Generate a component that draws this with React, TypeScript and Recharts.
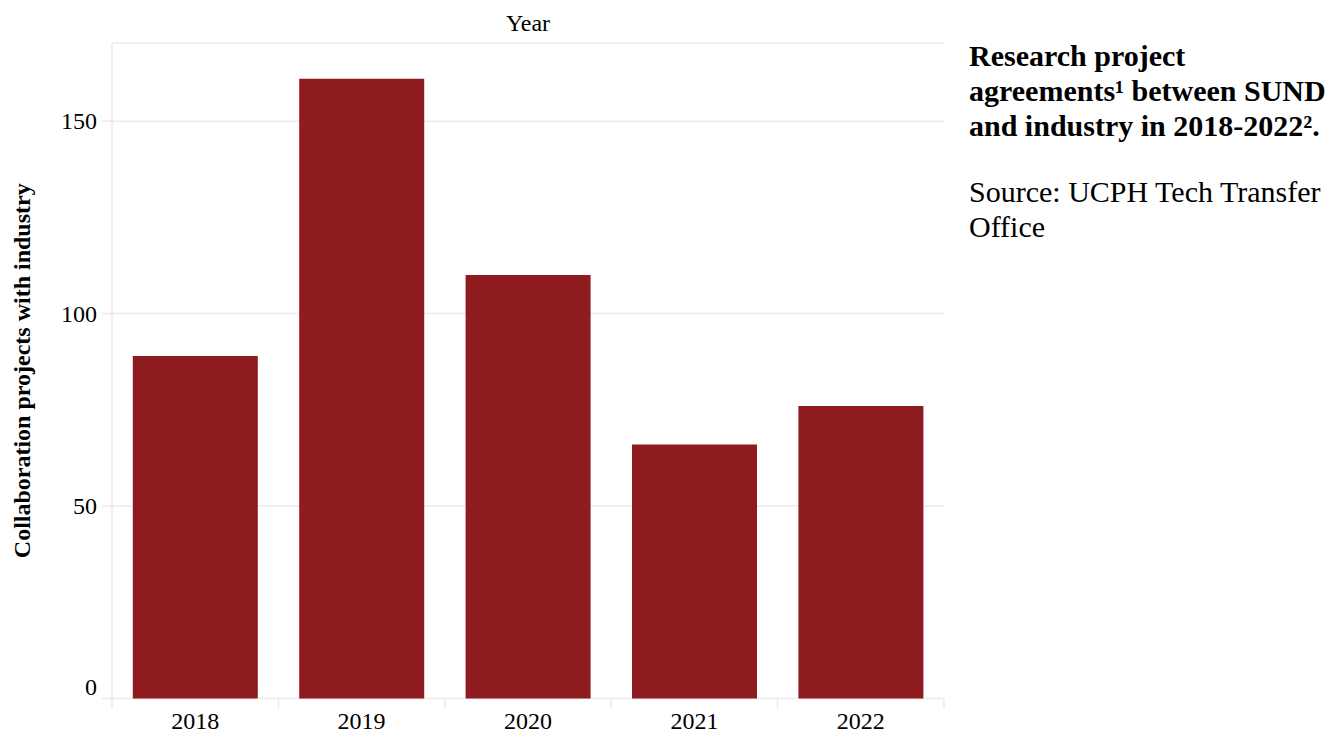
import React from "react";
import { BarChart, Bar, XAxis, YAxis, CartesianGrid } from "recharts";

const years = ["2018", "2019", "2020", "2021", "2022"];
const projects = [89, 161, 110, 66, 76];
const yTicks = [0, 50, 100, 150];

const titleLines = ["Research project", "agreements¹ between SUND", "and industry in 2018-2022²."];
const sourceLines = ["Source: UCPH Tech Transfer", "Office"];

const W = 1328;
const H = 732;
const LEFT = 112;
const RIGHT = 944;
const TOP = 43;
const BOTTOM = 698.5;
const BAND = (RIGHT - LEFT) / years.length;
const GRID = "#ebebeb";
const BAR = "#8E1B20";
const FONT = "'Liberation Serif', 'Times New Roman', serif";

const data = years.map((y, i) => ({ year: y, projects: projects[i] }));

const XTick = (props: any) => {
  const { x, payload, index } = props;
  return (
    <g>
      <line x1={x - BAND / 2} x2={x - BAND / 2} y1={BOTTOM} y2={BOTTOM + 10} stroke={GRID} strokeWidth={1.5} />
      {index === years.length - 1 && (
        <line x1={x + BAND / 2} x2={x + BAND / 2} y1={BOTTOM} y2={BOTTOM + 10} stroke={GRID} strokeWidth={1.5} />
      )}
      <text x={x} y={BOTTOM + 30} textAnchor="middle" fontFamily={FONT} fontSize={24} fill="#000">
        {payload.value}
      </text>
    </g>
  );
};

const YTick = (props: any) => {
  const { x, y, payload } = props;
  const shift = payload.value === 0 ? -12 : 0;
  return (
    <text x={x} y={y + shift} dy="0.34em" textAnchor="end" fontFamily={FONT} fontSize={24} fill="#000">
      {payload.value}
    </text>
  );
};

export default function App() {
  return (
    <div style={{ position: "absolute", left: 0, top: 0, width: W, height: H, background: "#fff" }}>
      <BarChart
        width={W}
        height={H}
        data={data}
        margin={{ top: TOP, right: W - RIGHT, left: 0, bottom: 0 }}
        barCategoryGap="12.5%"
      >
        <CartesianGrid vertical={false} stroke={GRID} strokeWidth={1.5} />
        <XAxis
          dataKey="year"
          height={H - BOTTOM}
          axisLine={false}
          tickLine={false}
          tick={<XTick />}
          interval={0}
        />
        <YAxis
          width={LEFT}
          domain={[0, 170.3]}
          ticks={yTicks}
          axisLine={{ stroke: GRID, strokeWidth: 1.5 }}
          tickLine={{ stroke: GRID, strokeWidth: 1.5 }}
          tickSize={10}
          tickMargin={5}
          tick={<YTick />}
          label={{
            value: "Collaboration projects with industry",
            angle: -90,
            content: () => (
              <text
                transform={`translate(22, ${(TOP + BOTTOM) / 2}) rotate(-90)`}
                textAnchor="middle"
                dominantBaseline="central"
                fontFamily={FONT}
                fontWeight="bold"
                fontSize={24}
                fill="#000"
              >
                Collaboration projects with industry
              </text>
            ),
          }}
        />
        <Bar dataKey="projects" fill={BAR} isAnimationActive={false} />
      </BarChart>
      <div
        style={{
          position: "absolute",
          left: LEFT,
          width: RIGHT - LEFT,
          top: 8,
          textAlign: "center",
          fontFamily: FONT,
          fontSize: 24,
          lineHeight: "30px",
          color: "#000",
        }}
      >
        Year
      </div>
      <div
        style={{
          position: "absolute",
          left: 969,
          top: 38,
          fontFamily: FONT,
          fontSize: 30,
          lineHeight: "35px",
          fontWeight: "bold",
          color: "#000",
          whiteSpace: "nowrap",
        }}
      >
        {titleLines.map((t) => (
          <div key={t}>{t}</div>
        ))}
      </div>
      <div
        style={{
          position: "absolute",
          left: 969,
          top: 174,
          fontFamily: FONT,
          fontSize: 30,
          lineHeight: "35px",
          color: "#000",
          whiteSpace: "nowrap",
        }}
      >
        {sourceLines.map((t) => (
          <div key={t}>{t}</div>
        ))}
      </div>
    </div>
  );
}
